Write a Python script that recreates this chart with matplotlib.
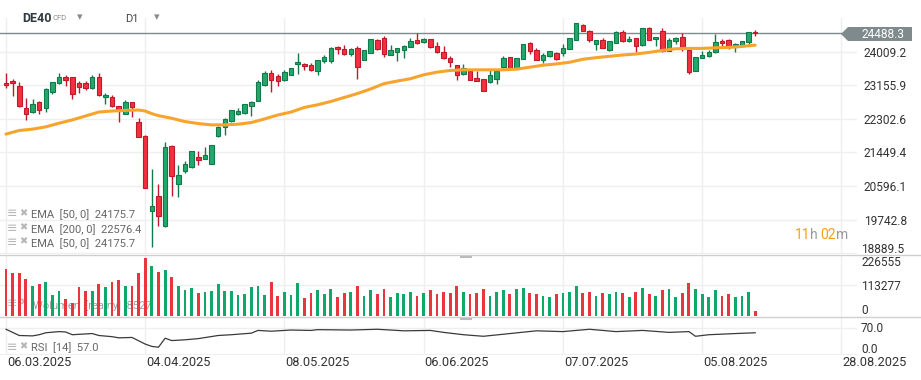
import matplotlib.pyplot as plt
import matplotlib.patches as mpatches
import numpy as np

plt.rcParams['font.family'] = ['Roboto', 'DejaVu Sans']

# DE40 CFD daily candles, 06.03.2025 .. mid Aug 2025
opens = [23222, 23272, 23130, 22569, 22469, 22720, 22569, 22988, 23222, 23373,
         23356, 23222, 23222, 23088, 23373, 22854, 22871, 22620, 22435, 22720,
         22218, 21866, 19975, 20335, 19581, 21624, 20661, 20979, 21080, 21339,
         21289, 21163, 21858, 22092, 22260, 22427, 22461, 22636, 22762, 23164,
         23473, 23398, 23289, 23423, 23691, 23699, 23674, 23524, 23775, 23766,
         24126, 24076, 23942, 24101, 23800, 23976, 24310, 24361, 23925, 23996,
         24051, 24126, 24310, 24252, 24327, 24151, 24001, 23850, 23674, 23440,
         23507, 23331, 23323, 23247, 23323, 23616, 23875, 23591, 23825, 24227,
         24051, 23800, 23900, 23976, 23976, 24076, 24302, 24679, 24528, 24202,
         24302, 24051, 24227, 24503, 24277, 24352, 24168, 24603, 24327, 24528,
         24026, 24277, 24377, 24051, 23524, 23842, 23900, 24001, 24277, 24302,
         24126, 24176, 24252, 24515]
closes = [23172, 23222, 22620, 22435, 22670, 22519, 23072, 23247, 23373, 23289,
          22938, 23113, 23088, 23373, 22921, 22904, 22636, 22502, 22737, 22603,
          21850, 20544, 20100, 19832, 21590, 20862, 20887, 21146, 21481, 21264,
          21389, 21640, 22092, 22293, 22519, 22494, 22670, 22720, 23247, 23473,
          23289, 23264, 23490, 23599, 23750, 23641, 23532, 23808, 23875, 24101,
          24068, 23942, 24076, 23616, 24051, 24327, 24068, 23942, 24059, 24101,
          24151, 24277, 24227, 24336, 24118, 24001, 23850, 23750, 23423, 23599,
          23298, 23272, 23013, 23406, 23515, 23850, 23591, 23850, 24202, 24026,
          23800, 23925, 24026, 23825, 24101, 24352, 24729, 24528, 24302, 24302,
          24101, 24277, 24503, 24277, 24327, 24151, 24603, 24302, 24377, 24026,
          24302, 24352, 24076, 23490, 23875, 23925, 24001, 24252, 24227, 24126,
          24202, 24277, 24510, 24488.3]
highs = [23473, 23306, 23239, 22846, 22820, 22754, 23088, 23250, 23473, 23406,
         23360, 23272, 23272, 23406, 23457, 22954, 22904, 22625, 22770, 22725,
         22335, 21900, 21021, 20661, 21707, 21649, 21130, 21230, 21498, 21498,
         21590, 21645, 22126, 22327, 22536, 22578, 22687, 22754, 23281, 23515,
         23532, 23440, 23557, 23602, 23984, 23733, 23724, 23810, 23934, 24118,
         24143, 24176, 24109, 24143, 24055, 24336, 24344, 24411, 24176, 24105,
         24185, 24352, 24494, 24361, 24336, 24260, 24151, 23892, 23680, 23708,
         23510, 23507, 23325, 23582, 23549, 23909, 23880, 23855, 24205, 24260,
         24093, 23976, 24030, 23992, 24202, 24355, 24732, 24712, 24553, 24305,
         24352, 24280, 24528, 24553, 24402, 24355, 24606, 24628, 24380, 24603,
         24352, 24377, 24478, 24055, 23880, 24026, 24051, 24453, 24327, 24327,
         24227, 24280, 24520, 24553]
lows = [23088, 22887, 22610, 22268, 22460, 22435, 22469, 22938, 23189, 23139,
        22804, 22971, 23038, 23055, 22887, 22687, 22603, 22218, 22430, 22352,
        21833, 20540, 19054, 19590, 19548, 20343, 20309, 20937, 21063, 21130,
        21285, 21160, 21833, 21883, 22235, 22394, 22427, 22385, 22760, 23139,
        22988, 23139, 23272, 23406, 23431, 23557, 23507, 23406, 23716, 23716,
        23942, 23925, 23892, 23314, 23791, 23970, 24042, 23867, 23920, 23766,
        23842, 24118, 24193, 24227, 24093, 23967, 23833, 23616, 23281, 23406,
        23295, 23264, 23010, 23214, 23180, 23591, 23588, 23588, 23822, 23942,
        23791, 23716, 23875, 23791, 23892, 24073, 24300, 24525, 24243, 24042,
        24093, 24026, 24225, 24252, 24252, 23992, 24143, 24300, 24143, 23992,
        24022, 24202, 24026, 23440, 23520, 23840, 23875, 23967, 24126, 24076,
        23992, 24160, 24160, 24411]

volume = [173, 160, 160, 137, 111, 118, 125, 77, 92, 63,
          48, 107, 92, 92, 118, 107, 125, 133, 111, 111,
          159, 215, 185, 164, 170, 144, 111, 96, 102, 86,
          90, 92, 118, 92, 92, 77, 81, 107, 111, 77,
          125, 74, 89, 77, 122, 66, 85, 95, 80, 100,
          70, 85, 90, 110, 75, 95, 80, 100, 70, 85,
          80, 90, 75, 85, 95, 80, 90, 85, 110, 90,
          80, 85, 100, 75, 90, 95, 80, 100, 105, 85,
          80, 75, 70, 80, 85, 90, 110, 85, 90, 75,
          85, 80, 90, 85, 70, 90, 105, 80, 75, 95,
          100, 70, 85, 120, 100, 80, 70, 95, 75, 80,
          70, 75, 90, 20]  # thousands

# EMA 50
ema_idx = [0, 2, 4, 6, 8, 10, 12, 14, 16, 18, 20, 21, 22, 23, 25, 27, 29, 31, 33, 35,
           37, 39, 41, 43, 45, 47, 49, 51, 53, 55, 57, 59, 61, 63, 65, 67, 69, 71, 73, 75,
           77, 79, 81, 83, 85, 87, 89, 91, 93, 95, 97, 99, 101, 103, 105, 107, 109, 111, 113]
ema_val = [21917, 22009, 22042, 22101, 22193, 22277, 22377, 22477, 22502, 22519,
           22528, 22502, 22435, 22385, 22318, 22235, 22184, 22151, 22151, 22168,
           22210, 22302, 22402, 22477, 22594, 22661, 22745, 22846, 22946, 23063,
           23197, 23264, 23323, 23423, 23490, 23532, 23549, 23549, 23549, 23549,
           23565, 23616, 23666, 23699, 23741, 23817, 23858, 23892, 23925, 23950,
           23992, 24042, 24084, 24093, 24093, 24109, 24118, 24143, 24175.7]

# RSI 14
rsi_idx = [0, 2, 4, 5, 6, 8, 9, 10, 13, 14, 16, 17, 19, 21, 22, 23, 24, 25, 27, 29,
           32, 34, 37, 38, 40, 43, 46, 47, 52, 56, 60, 64, 66, 69, 72, 76, 80, 84, 88,
           92, 96, 100, 103, 104, 106, 110, 113]
rsi_val = [66, 50, 49, 52, 57, 60, 59, 52, 55, 50, 47, 44, 45, 28, 22, 20, 43, 37, 39, 42,
           50, 52, 56, 63, 61, 64, 63, 65, 64, 66, 62, 63, 58, 52, 48, 55, 62, 60, 66,
           60, 63, 58, 60, 48, 52, 55, 57.0]

tick_pos = [0, 21, 42, 63, 84, 105, 126]
tick_labels = ['06.03.2025', '04.04.2025', '08.05.2025', '06.06.2025',
               '07.07.2025', '05.08.2025', '28.08.2025']
price_levels = [24009.2, 23155.9, 22302.6, 21449.4, 20596.1, 19742.8, 18889.5]
last_price = 24488.3

W, H = 921, 380
fig = plt.figure(figsize=(W / 100, H / 100), dpi=100)


def px_axes(x0, y0, x1, y1):
    return fig.add_axes([x0 / W, 1 - y1 / H, (x1 - x0) / W, (y1 - y0) / H])


GREEN, GREEN_E = '#22a86b', '#117a4a'
RED, RED_E = '#f2303f', '#c01a2a'
GRID = '#efefef'
TXT = '#333333'
FS = 8.6

n = len(opens)
x = np.arange(n)
o, c, hi, lo = map(np.array, (opens, closes, highs, lows))
up = c >= o
xlim = (-6 / 6.63, (857 - 6) / 6.63)

# price panel: 24009.2 sits at y=51.7px, 853.3 points per 33.6px
ppp = 853.3 / 33.6
ax = px_axes(0, 18, 857, 254)
ax.set_ylim(24009.2 - (254 - 51.7) * ppp, 24009.2 + (51.7 - 18) * ppp)
ax.set_xlim(*xlim)
for lv in price_levels:
    ax.axhline(lv, color=GRID, lw=1, zorder=0)
for tp in tick_pos:
    ax.axvline(tp, color=GRID, lw=1, zorder=0)

body_lo = np.minimum(o, c)
body_h = np.maximum(np.abs(c - o), 12)
ax.vlines(x[up], lo[up], hi[up], color=GREEN_E, lw=1, zorder=2)
ax.vlines(x[~up], lo[~up], hi[~up], color=RED_E, lw=1, zorder=2)
ax.bar(x[up], body_h[up], bottom=body_lo[up], width=0.68, color=GREEN,
       edgecolor=GREEN_E, linewidth=0.8, zorder=3)
ax.bar(x[~up], body_h[~up], bottom=body_lo[~up], width=0.68, color=RED,
       edgecolor=RED_E, linewidth=0.8, zorder=3)
ax.plot(ema_idx, ema_val, color='#f7a42c', lw=2.2, zorder=4, solid_capstyle='round')
ax.axhline(last_price, color='#7f8a8c', lw=1, zorder=1)
ax.set_yticks(price_levels[:-1])
ax.set_yticklabels([f'{v:.1f}' for v in price_levels[:-1]])
ax.yaxis.tick_right()
ax.tick_params(axis='y', length=0, pad=5, labelsize=FS, labelcolor=TXT)
ax.set_xticks([])
for s in ax.spines.values():
    s.set_visible(False)

# volume panel
axv = px_axes(0, 254.6, 857, 316)
axv.set_xlim(*xlim)
axv.set_ylim(0, 226555)
for tp in tick_pos:
    axv.axvline(tp, color=GRID, lw=1, zorder=0)
axv.axhline(113277, color=GRID, lw=1, zorder=0)
vol = np.array(volume) * 1000
axv.bar(x, vol, width=0.42, color=np.where(up, '#10a86a', '#e8353e'), zorder=3)
axv.text(33 / 857, 0.17, 'Wolumen  [realny]  8527', transform=axv.transAxes,
         fontsize=8, color='#a0a0a0', zorder=1, va='center')
axv.text(7 / 857, 0.2, '≡', transform=axv.transAxes, fontsize=9, color='#c0c0c0',
         zorder=1, va='center')
axv.text(19 / 857, 0.22, '✖', transform=axv.transAxes, fontsize=7, color='#c0c0c0',
         zorder=1, va='center')
axv.set_xticks([])
axv.set_yticks([])
for s in axv.spines.values():
    s.set_visible(False)

# RSI panel
axr = px_axes(0, 317, 857, 355)
axr.set_xlim(*xlim)
axr.set_ylim(0, 70 * 38 / 27.3)
for tp in tick_pos:
    axr.axvline(tp, color=GRID, lw=1, zorder=0)
axr.axhline(70, color=GRID, lw=1, zorder=0)
axr.axhline(0, color=GRID, lw=1.5, zorder=0)
axr.plot(rsi_idx, rsi_val, color='#3a3a3a', lw=0.9, zorder=3)
axr.set_xticks([])
axr.set_yticks([])
for s in axr.spines.values():
    s.set_visible(False)

# overlay in pixel coordinates for labels and decorations
ov = fig.add_axes([0, 0, 1, 1], zorder=10)
ov.set_xlim(0, W)
ov.set_ylim(H, 0)
ov.axis('off')
ov.patch.set_alpha(0)

ov.plot([0, W], [254.5, 254.5], color='#cfcfcf', lw=1)
ov.plot([0, W], [316.5, 316.5], color='#cfcfcf', lw=1)
ov.plot([461, 471], [256.5, 256.5], color='#bbbbbb', lw=1.5)
ov.plot([461, 471], [318.5, 318.5], color='#bbbbbb', lw=1.5)

# header
ov.text(22, 18, 'DE40', fontsize=9, fontweight='bold', color='#2f3a40', va='center')
ov.text(52, 18.5, 'CFD', fontsize=5.5, color='#8a8a8a', va='center')
ov.text(80, 17, '▾', fontsize=8, color='#8a8a8a', va='center', ha='center')
ov.text(125, 19, 'D1', fontsize=8, color='#444444', va='center')
ov.text(157, 17, '▾', fontsize=8, color='#8a8a8a', va='center', ha='center')

# last price tag
tag = mpatches.Polygon([[841, 34], [848, 27], [912, 27], [912, 41], [848, 41]],
                       closed=True, color='#7f8a8c', lw=0)
ov.add_patch(tag)
ov.text(861, 34.5, f'{last_price:.1f}', fontsize=FS, color='white', va='center')
ov.text(861, 249.5, '18889.5', fontsize=FS, color=TXT, va='center')
ov.text(861, 262, '226555', fontsize=FS, color=TXT, va='center')
ov.text(861, 286, '113277', fontsize=FS, color=TXT, va='center')
ov.text(861, 311, '0', fontsize=FS, color=TXT, va='center')
ov.text(861, 328, '70.0', fontsize=FS, color=TXT, va='center')
ov.text(861, 349.5, '0.0', fontsize=FS, color=TXT, va='center')

# dates
for tp, lab in zip(tick_pos, tick_labels):
    px = 6 + 6.63 * tp
    ov.text(px + 1, 363, lab, fontsize=9.2, color=TXT, va='center', ha='left')

# indicator legends
ema_lines = ['EMA  [50, 0]  24175.7', 'EMA  [200, 0]  22576.4', 'EMA  [50, 0]  24175.7']
for k, lab in enumerate(ema_lines):
    yy = 214 + 14.3 * k
    ov.text(7, yy, '≡', fontsize=9, color='#b5b5b5', va='center')
    ov.text(19, yy - 1, '✖', fontsize=7, color='#b5b5b5', va='center')
    ov.text(31, yy + 1, lab, fontsize=8, color='#666666', va='center')
ov.text(7, 347, '≡', fontsize=9, color='#b5b5b5', va='center')
ov.text(19, 346, '✖', fontsize=7, color='#b5b5b5', va='center')
ov.text(31, 348, 'RSI  [14]  57.0', fontsize=8, color='#666666', va='center')

# countdown
ov.text(795, 235, '11', fontsize=10, color='#f5a01a', va='center')
ov.text(810, 235, 'h', fontsize=10, color='#9a9a9a', va='center')
ov.text(820, 235, '02', fontsize=10, color='#f5a01a', va='center')
ov.text(836, 235, 'm', fontsize=10, color='#9a9a9a', va='center')

fig.savefig('out.png', dpi=100)
